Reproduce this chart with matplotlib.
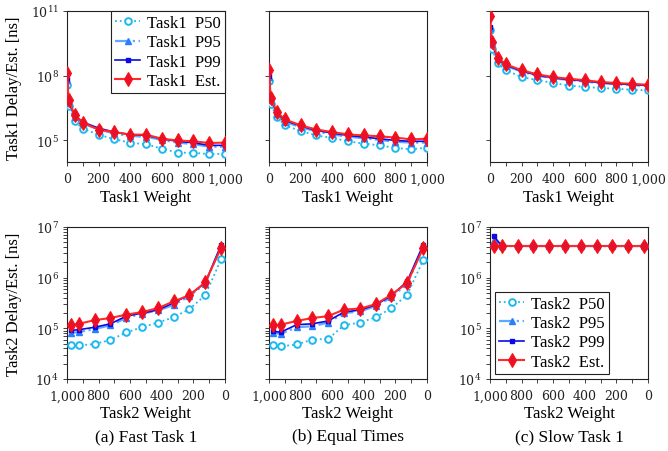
import numpy as np
import matplotlib
matplotlib.use("Agg")
import matplotlib.pyplot as plt
from matplotlib.ticker import FixedLocator, FuncFormatter, LogLocator, NullLocator, NullFormatter, MultipleLocator

plt.rcParams['mathtext.fontset'] = 'dejavuserif'
plt.rcParams['font.family'] = ['DejaVu Serif']

# ---------------- data ----------------
t1_weight = [1, 10, 50, 100, 200, 300, 400, 500, 600, 700, 800, 900, 1000]
t2_weight = [975, 925, 825, 725, 625, 525, 425, 325, 225, 125, 25]

# (a) Fast Task 1 - Task1
fast_t1_p50 = [3.8e7, 4.0e6, 7.6e5, 3.5e5, 1.86e5, 1.12e5, 7.9e4, 6.6e4, 4.2e4, 2.7e4, 2.7e4, 2.3e4, 2.4e4]
fast_t1_p95 = [6.3e7, 5.2e6, 1.26e6, 6.2e5, 3.2e5, 2.1e5, 1.6e5, 1.5e5, 1.05e5, 7.9e4, 6.8e4, 5.1e4, 5.1e4]
fast_t1_p99 = [7.2e7, 6.0e6, 1.45e6, 7.1e5, 3.7e5, 2.45e5, 1.86e5, 1.7e5, 1.2e5, 9.1e4, 7.8e4, 5.9e4, 5.9e4]
fast_t1_est = [1.38e8, 7.2e6, 1.45e6, 6.6e5, 3.2e5, 2.45e5, 1.86e5, 1.86e5, 1.2e5, 1.0e5, 9.1e4, 7.6e4, 7.9e4]

# (b) Equal Times - Task1
eq_t1_p50 = [5.5e7, 5.0e6, 1.2e6, 5.0e5, 2.75e5, 1.7e5, 1.3e5, 9.1e4, 7.1e4, 5.9e4, 4.5e4, 3.9e4, 4.6e4]
eq_t1_p95 = [8.5e7, 7.6e6, 1.7e6, 7.4e5, 4.1e5, 2.6e5, 1.9e5, 1.5e5, 1.26e5, 1.05e5, 8.7e4, 7.9e4, 7.9e4]
eq_t1_p99 = [9.8e7, 8.7e6, 1.95e6, 8.5e5, 4.7e5, 2.9e5, 2.2e5, 1.7e5, 1.44e5, 1.2e5, 1.0e5, 9.1e4, 9.1e4]
eq_t1_est = [1.8e8, 9.5e6, 2.1e6, 9.5e5, 5.0e5, 3.2e5, 2.45e5, 1.9e5, 1.7e5, 1.55e5, 1.35e5, 1.12e5, 1.2e5]

# (c) Slow Task 1 - Task1
slow_t1_p50 = [1.26e10, 1.8e9, 4.0e8, 1.8e8, 8.7e7, 6.2e7, 4.6e7, 3.5e7, 3.0e7, 2.7e7, 2.5e7, 2.2e7, 2.1e7]
slow_t1_p95 = [1.6e10, 3.0e9, 5.8e8, 2.9e8, 1.55e8, 1.0e8, 7.6e7, 6.3e7, 5.4e7, 4.5e7, 4.0e7, 3.7e7, 3.3e7]
slow_t1_p99 = [1.8e10, 3.2e9, 6.2e8, 3.1e8, 1.65e8, 1.05e8, 8.0e7, 6.6e7, 5.7e7, 4.7e7, 4.2e7, 3.9e7, 3.5e7]
slow_t1_est = [5.9e10, 3.6e9, 6.9e8, 3.4e8, 1.8e8, 1.15e8, 8.7e7, 7.2e7, 6.2e7, 5.1e7, 4.6e7, 4.2e7, 3.8e7]

# (a) Fast Task 1 - Task2
fast_t2_p50 = [4.6e4, 4.6e4, 4.9e4, 5.9e4, 8.3e4, 1.05e5, 1.3e5, 1.65e5, 2.4e5, 4.5e5, 2.3e6]
fast_t2_p95 = [8.1e4, 8.4e4, 9.7e4, 1.15e5, 1.6e5, 1.95e5, 2.25e5, 2.9e5, 4.3e5, 7.6e5, 4.2e6]
fast_t2_p99 = [9.1e4, 9.4e4, 1.05e5, 1.23e5, 1.74e5, 2.0e5, 2.3e5, 3.2e5, 4.6e5, 7.9e5, 4.4e6]
fast_t2_est = [1.17e5, 1.23e5, 1.45e5, 1.6e5, 1.86e5, 2.1e5, 2.5e5, 3.4e5, 4.5e5, 8.1e5, 3.9e6]

# (b) Equal Times - Task2
eq_t2_p50 = [4.6e4, 4.4e4, 4.8e4, 6.0e4, 6.2e4, 1.15e5, 1.3e5, 1.65e5, 2.5e5, 4.6e5, 2.2e6]
eq_t2_p95 = [8.1e4, 7.8e4, 1.05e5, 1.1e5, 1.3e5, 2.0e5, 2.15e5, 2.75e5, 4.1e5, 7.6e5, 4.0e6]
eq_t2_p99 = [8.7e4, 8.4e4, 1.18e5, 1.23e5, 1.4e5, 2.1e5, 2.3e5, 2.9e5, 4.4e5, 8.5e5, 4.4e6]
eq_t2_est = [1.15e5, 1.18e5, 1.4e5, 1.6e5, 1.74e5, 2.35e5, 2.45e5, 3.0e5, 4.6e5, 7.9e5, 3.8e6]

# (c) Slow Task 1 - Task2
slow_t2_p50 = [4.2e6, 4.2e6, 4.2e6, 4.2e6, 4.2e6, 4.2e6, 4.2e6, 4.2e6, 4.2e6, 4.2e6, 4.2e6]
slow_t2_p95 = [5.6e6, 4.2e6, 4.2e6, 4.2e6, 4.2e6, 4.2e6, 4.2e6, 4.2e6, 4.2e6, 4.2e6, 4.2e6]
slow_t2_p99 = [6.6e6, 4.2e6, 4.2e6, 4.2e6, 4.2e6, 4.2e6, 4.2e6, 4.2e6, 4.2e6, 4.2e6, 4.2e6]
slow_t2_est = [4.2e6, 4.2e6, 4.2e6, 4.2e6, 4.2e6, 4.2e6, 4.2e6, 4.2e6, 4.2e6, 4.2e6, 4.2e6]

subcaptions = ["(a) Fast Task 1", "(b) Equal Times", "(c) Slow Task 1"]

# ---------------- styles ----------------
SERIF = ['Liberation Serif', 'DejaVu Serif']
C_P50 = '#1cb8f0'
C_P95_L = '#5fa8ff'
C_P95_M = '#2a7fff'
C_P99 = '#0a0ae6'
C_EST_L = '#ff2a2a'
C_EST_M = '#e8102a'


def draw(ax, x, p50, p95, p99, est, prefix):
    ax.plot(x, p50, linestyle=':', color=C_P50, lw=1.3, marker='o', ms=4.8,
            mfc='white', mec=C_P50, mew=1.4, label=prefix + '  P50', zorder=3)
    ax.plot(x, p95, linestyle='-.', color=C_P95_L, lw=1.6, marker='^', ms=4.8,
            mfc=C_P95_M, mec=C_P95_M, label=prefix + '  P95', zorder=4)
    ax.plot(x, p99, linestyle='-', color=C_P99, lw=1.2, marker='s', ms=2.6,
            mfc=C_P99, mec=C_P99, label=prefix + '  P99', zorder=5)
    ax.plot(x, est, linestyle='-', color=C_EST_L, lw=1.5, marker='d', ms=7.5,
            mfc=C_EST_M, mec='#ff1010', mew=0.8, label=prefix + '  Est.', zorder=6)


def style(ax, top, show_ylabels):
    ax.set_yscale('log')
    for s in ax.spines.values():
        s.set_linewidth(0.8)
        s.set_color('#222222')
    if top:
        ax.set_ylim(1e4, 1e11)
        ax.yaxis.set_major_locator(FixedLocator([1e5, 1e8, 1e11]))
        ax.yaxis.set_minor_locator(NullLocator())
        ax.set_xlim(0, 1000)
    else:
        ax.set_ylim(1e4, 1e7)
        ax.yaxis.set_major_locator(FixedLocator([1e4, 1e5, 1e6, 1e7]))
        ax.yaxis.set_minor_locator(LogLocator(base=10, subs=np.arange(2, 10)))
        ax.set_xlim(1000, 0)
    ax.yaxis.set_minor_formatter(NullFormatter())
    if show_ylabels:
        ax.yaxis.set_major_formatter(FuncFormatter(lambda v, p: r'$10^{%d}$' % int(round(np.log10(v)))))
    else:
        ax.yaxis.set_major_formatter(NullFormatter())
    ax.xaxis.set_major_locator(FixedLocator([0, 200, 400, 600, 800, 1000]))
    ax.xaxis.set_minor_locator(MultipleLocator(100))
    ax.xaxis.set_major_formatter(FuncFormatter(lambda v, p: '1,000' if v == 1000 else '%d' % v))
    ax.tick_params(axis='both', which='both', direction='out', color='#222222', width=0.6)
    ax.tick_params(axis='both', which='major', length=3.0, labelsize=9, colors='#222222')
    ax.tick_params(axis='both', which='minor', length=2.6)
    ax.tick_params(axis='x', which='major', pad=4.5)
    ax.tick_params(axis='y', which='major', pad=3)


fig = plt.figure(figsize=(6.68, 4.52), dpi=100)
W, H = 668.0, 452.0
lefts = [67, 269, 490]
aw = 158
top_row = (12, 163)
bot_row = (228, 380)

tops_data = [
    (fast_t1_p50, fast_t1_p95, fast_t1_p99, fast_t1_est),
    (eq_t1_p50, eq_t1_p95, eq_t1_p99, eq_t1_est),
    (slow_t1_p50, slow_t1_p95, slow_t1_p99, slow_t1_est),
]
bots_data = [
    (fast_t2_p50, fast_t2_p95, fast_t2_p99, fast_t2_est),
    (eq_t2_p50, eq_t2_p95, eq_t2_p99, eq_t2_est),
    (slow_t2_p50, slow_t2_p95, slow_t2_p99, slow_t2_est),
]

leg_kw = dict(prop={'family': SERIF, 'size': 12}, fancybox=False, framealpha=1,
              edgecolor='#222222', handlelength=1.5, handletextpad=0.4,
              labelspacing=0.2, borderpad=0.25)

for i in range(3):
    l = lefts[i]
    axt = fig.add_axes([l / W, 1 - top_row[1] / H, aw / W, (top_row[1] - top_row[0]) / H])
    draw(axt, t1_weight, *tops_data[i], prefix='Task1')
    style(axt, True, i == 0)
    fig.text((l + aw / 2) / W, 1 - 198 / H, 'Task1 Weight', ha='center', va='center',
             fontsize=12, family=SERIF)
    if i == 0:
        leg = axt.legend(loc='upper right', borderaxespad=0, **leg_kw)
        leg.get_frame().set_linewidth(0.8)

    axb = fig.add_axes([l / W, 1 - bot_row[1] / H, aw / W, (bot_row[1] - bot_row[0]) / H])
    draw(axb, t2_weight, *bots_data[i], prefix='Task2')
    style(axb, False, i != 1)
    fig.text((l + aw / 2) / W, 1 - 414 / H, 'Task2 Weight', ha='center', va='center',
             fontsize=12, family=SERIF)
    fig.text((l + aw / 2) / W, 1 - 437 / H, subcaptions[i], ha='center', va='center',
             fontsize=12.5, family=SERIF)
    if i == 2:
        leg = axb.legend(loc='lower left', borderaxespad=0.3, **leg_kw)
        leg.get_frame().set_linewidth(0.8)

fig.text(14 / W, 1 - 88 / H, 'Task1 Delay/Est. [ns]', rotation=90, ha='center', va='center',
         fontsize=12, family=SERIF)
fig.text(14 / W, 1 - 304 / H, 'Task2 Delay/Est. [ns]', rotation=90, ha='center', va='center',
         fontsize=12, family=SERIF)

fig.savefig('out.png', dpi=100)
